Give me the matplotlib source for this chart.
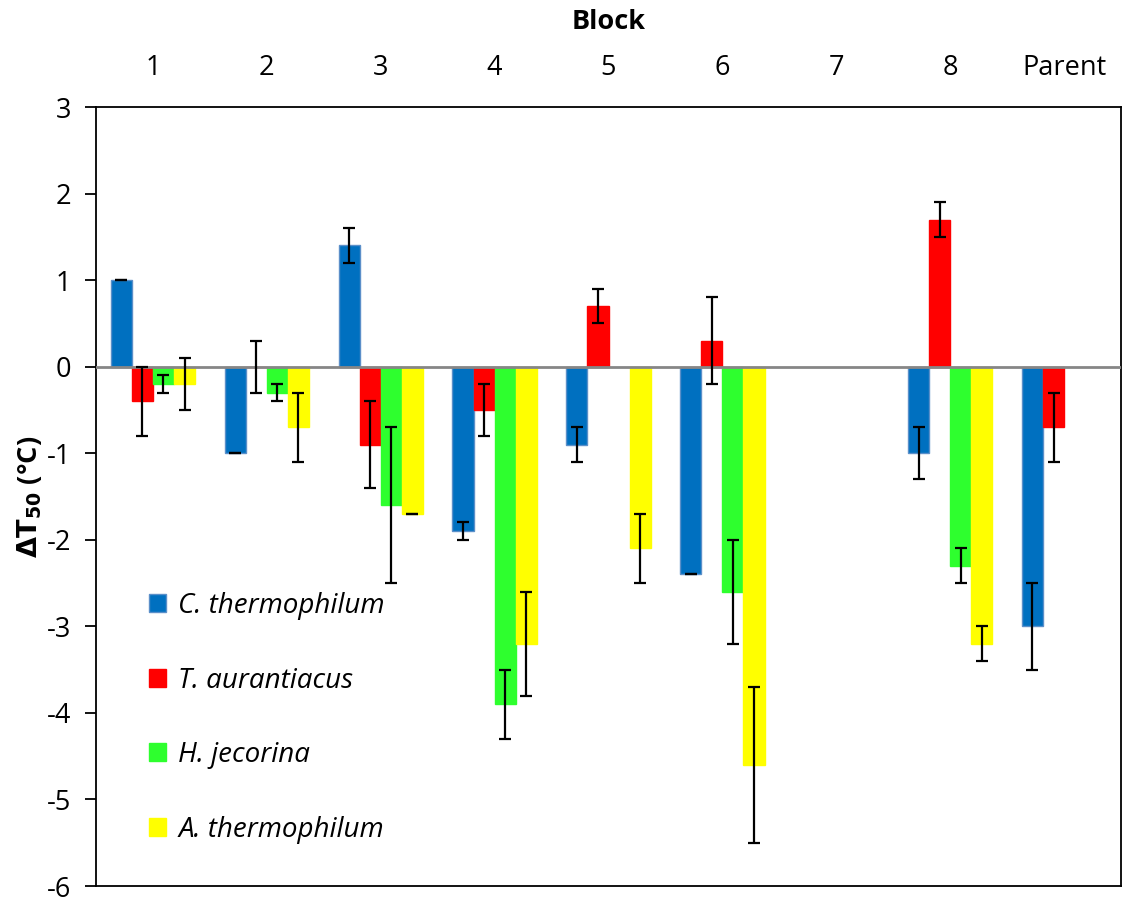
import numpy as np
import matplotlib.pyplot as plt

nan = np.nan
blocks = ['1', '2', '3', '4', '5', '6', '7', '8', 'Parent']
species = ['C. thermophilum', 'T. aurantiacus', 'H. jecorina', 'A. thermophilum']
colors = ['#0070C0', '#FF0000', '#2EFF2E', '#FFFF00']

c_thermophilum = [1.0, -1.0, 1.4, -1.9, -0.9, -2.4, nan, -1.0, -3.0]
c_thermophilum_err = [0.0, 0.0, 0.2, 0.1, 0.2, 0.0, nan, 0.3, 0.5]
t_aurantiacus = [-0.4, 0.0, -0.9, -0.5, 0.7, 0.3, nan, 1.7, -0.7]
t_aurantiacus_err = [0.4, 0.3, 0.5, 0.3, 0.2, 0.5, nan, 0.2, 0.4]
h_jecorina = [-0.2, -0.3, -1.6, -3.9, nan, -2.6, nan, -2.3, nan]
h_jecorina_err = [0.1, 0.1, 0.9, 0.4, nan, 0.6, nan, 0.2, nan]
a_thermophilum = [-0.2, -0.7, -1.7, -3.2, -2.1, -4.6, nan, -3.2, nan]
a_thermophilum_err = [0.3, 0.4, 0.0, 0.6, 0.4, 0.9, nan, 0.2, nan]

values = [c_thermophilum, t_aurantiacus, h_jecorina, a_thermophilum]
errors = [c_thermophilum_err, t_aurantiacus_err, h_jecorina_err, a_thermophilum_err]

plt.rcParams['font.family'] = ['Open Sans', 'DejaVu Sans']

fig = plt.figure(figsize=(11.23, 8.99), dpi=100)
ax = fig.add_axes([96 / 1123, 1 - 886 / 899, (1121 - 96) / 1123, (886 - 107) / 899])

x = np.arange(len(blocks))
w = 0.185
for i, (vals, errs) in enumerate(zip(values, errors)):
    pos = x + (i - 1.5) * w
    edge = '#5B8FC9' if i == 0 else colors[i]
    ax.bar(pos, vals, w, color=colors[i], edgecolor=edge, linewidth=1.0,
           label=species[i], zorder=2)
    ax.errorbar(pos, vals, yerr=errs, fmt='none', ecolor='black',
                elinewidth=1.6, capsize=4.5, capthick=1.6, zorder=4)

ax.axhline(0, color='#868686', linewidth=2, zorder=3)

ax.set_xlim(-0.5, len(blocks) - 0.5)
ax.set_ylim(-6, 3)
ax.set_yticks(range(-6, 4))
ax.set_yticklabels([str(v) for v in range(-6, 4)], fontsize=19.5)
ax.tick_params(axis='y', direction='out', length=8, width=1.3, pad=10)

ax.xaxis.tick_top()
ax.xaxis.set_label_position('top')
ax.set_xticks(x)
ax.set_xticklabels(blocks, fontsize=19.5)
ax.tick_params(axis='x', length=0, pad=18)
ax.set_xlabel('Block', fontsize=19.5, fontweight='bold', labelpad=18)
ax.set_ylabel(r'$\mathbf{\Delta T_{50}}$ (°C)', fontsize=19.5, fontweight='bold', labelpad=2)

for s in ax.spines.values():
    s.set_linewidth(1.3)
    s.set_color('black')

leg = ax.legend(loc='lower left', bbox_to_anchor=(0.027, 0.022), frameon=False,
                prop={'style': 'italic', 'size': 20}, labelspacing=1.68,
                handlelength=0.62, handleheight=0.62, handletextpad=0.45)

fig.savefig('out.png', dpi=100)
